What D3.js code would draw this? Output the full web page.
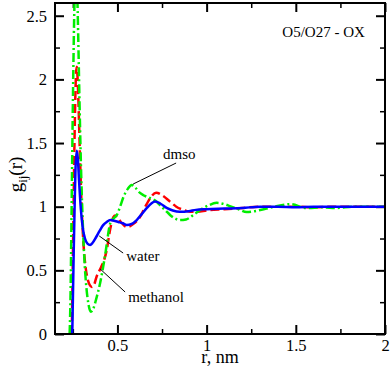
<!DOCTYPE html>
<html>
<head>
<meta charset="utf-8">
<script src="https://cdn.jsdelivr.net/npm/d3@7"></script>
<style>
    body { margin: 0; background: #fff; }
</style>
</head>
<body>
<svg id="chart" width="391" height="368"></svg>
<script>
// g(r) values, r in nm
const waterR = [0.24, 0.246, 0.25, 0.255, 0.26, 0.265, 0.272, 0.278, 0.285, 0.295, 0.305, 0.318, 0.332, 0.347, 0.36, 0.38, 0.40, 0.42, 0.44, 0.46, 0.48, 0.505, 0.53, 0.552, 0.58, 0.608, 0.635, 0.665, 0.69, 0.711, 0.74, 0.776, 0.81, 0.85, 0.90, 0.94, 1.0, 1.1, 1.2, 1.3, 1.4, 1.5, 1.6, 1.7, 1.8, 1.9, 2.0]
const waterG = [0, 0, 0.25, 0.65, 1.0, 1.3, 1.44, 1.38, 1.2, 0.98, 0.84, 0.75, 0.71, 0.70, 0.715, 0.76, 0.81, 0.855, 0.88, 0.895, 0.89, 0.88, 0.87, 0.856, 0.865, 0.895, 0.94, 0.99, 1.025, 1.04, 1.025, 0.99, 0.97, 0.96, 0.965, 0.975, 0.98, 0.985, 0.99, 1.0, 1.0, 0.995, 1.0, 1.0, 1.0, 1.0, 1.0]

const methanolR = [0.24, 0.244, 0.248, 0.253, 0.258, 0.263, 0.268, 0.272, 0.277, 0.283, 0.29, 0.30, 0.31, 0.322, 0.335, 0.347, 0.357, 0.37, 0.383, 0.40, 0.41, 0.425, 0.44, 0.459, 0.478, 0.487, 0.50, 0.525, 0.553, 0.59, 0.627, 0.66, 0.69, 0.717, 0.75, 0.795, 0.83, 0.87, 0.907, 0.95, 1.0, 1.1, 1.2, 1.3, 1.4, 1.5, 1.6, 1.7, 1.8, 1.9, 2.0]
const methanolG = [0, 0.05, 0.4, 0.9, 1.4, 1.8, 2.05, 2.1, 2.0, 1.75, 1.4, 0.98, 0.7, 0.52, 0.42, 0.38, 0.37, 0.39, 0.45, 0.5, 0.53, 0.58, 0.66, 0.82, 0.92, 0.93, 0.915, 0.87, 0.84, 0.865, 0.92, 1.01, 1.08, 1.11, 1.09, 1.04, 1.0, 0.975, 0.96, 0.96, 0.97, 0.98, 0.99, 1.0, 1.0, 1.0, 0.995, 1.0, 1.0, 1.0, 1.0]

const dmsoR = [0.232, 0.237, 0.242, 0.247, 0.252, 0.257, 0.262, 0.268, 0.274, 0.28, 0.287, 0.295, 0.305, 0.315, 0.325, 0.337, 0.351, 0.365, 0.38, 0.403, 0.43, 0.46, 0.48, 0.497, 0.515, 0.535, 0.558, 0.58, 0.60, 0.625, 0.646, 0.68, 0.71, 0.74, 0.77, 0.795, 0.82, 0.85, 0.885, 0.926, 0.97, 1.01, 1.056, 1.1, 1.13, 1.18, 1.224, 1.27, 1.32, 1.38, 1.47, 1.56, 1.65, 1.73, 1.82, 1.9, 2.0]
const dmsoG = [0, 0.3, 0.85, 1.45, 2.0, 2.45, 2.75, 2.85, 2.7, 2.35, 1.85, 1.35, 0.9, 0.58, 0.38, 0.24, 0.175, 0.2, 0.27, 0.40, 0.61, 0.87, 0.91, 0.935, 1.0, 1.08, 1.14, 1.17, 1.15, 1.11, 1.09, 1.07, 1.05, 1.01, 0.97, 0.935, 0.91, 0.895, 0.9, 0.935, 0.98, 1.01, 1.03, 1.02, 1.005, 0.98, 0.958, 0.965, 0.98, 1.0, 1.02, 0.99, 0.995, 0.99, 1.0, 1.0, 1.0]

const xTicks = [0.5, 1, 1.5, 2]
const xMinorTicks = [0.25, 0.75, 1.25, 1.75]
const yTicks = [0, 0.5, 1, 1.5, 2, 2.5]
const yMinorTicks = [0.25, 0.75, 1.25, 1.75, 2.25]

const panelTitle = "O5/O27 - OX"

// label text, text anchor, pointer start, pointer end (data units)
const labels = [
    {name: "dmso", at: [0.756, 1.375], from: [0.829, 1.343], to: [0.588, 1.178]},
    {name: "water", at: [0.549, 0.577], from: [0.532, 0.636], to: [0.398, 0.770]},
    {name: "methanol", at: [0.56, 0.255], from: [0.543, 0.33], to: [0.403, 0.511]}
]

const serif = "'Liberation Serif', 'Times New Roman', 'DejaVu Serif', serif"


let svg = d3.select("#chart").attr("font-family", serif),
    margin = {top: 3, right: 6, bottom: 34, left: 55},
    width = 391 - margin.left - margin.right,
    height = 368 - margin.top - margin.bottom

let x = d3.scaleLinear().domain([0.15, 2]).range([margin.left, margin.left + width]),
    y = d3.scaleLinear().domain([0, 2.6]).range([margin.top + height, margin.top])

svg.append("defs").append("clipPath")
    .attr("id", "plot-clip")
    .append("rect")
    .attr("x", margin.left)
    .attr("y", margin.top)
    .attr("width", width)
    .attr("height", height)

function drawAxis(axis, transform, minor) {
    let g = svg.append("g").attr("transform", transform).call(axis)
    g.attr("font-family", serif).attr("font-size", 16.5)
    g.select(".domain").remove()
    g.selectAll("line").attr("stroke", "#000").attr("stroke-width", minor ? 1.5 : 2)
    g.selectAll("text").attr("fill", "#000")
    return g
}

let bottom = margin.top + height,
    right = margin.left + width

// ticks point inward on all four sides
drawAxis(d3.axisBottom(x).tickValues(xTicks).tickSize(-9).tickPadding(5).tickFormat(d3.format("")), `translate(0,${bottom})`)
drawAxis(d3.axisBottom(x).tickValues(xMinorTicks).tickSize(-5).tickFormat(""), `translate(0,${bottom})`, true)
drawAxis(d3.axisTop(x).tickValues(xTicks).tickSize(-9).tickFormat(""), `translate(0,${margin.top})`)
drawAxis(d3.axisTop(x).tickValues(xMinorTicks).tickSize(-5).tickFormat(""), `translate(0,${margin.top})`, true)

drawAxis(d3.axisLeft(y).tickValues(yTicks).tickSize(-9).tickPadding(8).tickFormat(d3.format("")), `translate(${margin.left},0)`)
drawAxis(d3.axisLeft(y).tickValues(yMinorTicks).tickSize(-5).tickFormat(""), `translate(${margin.left},0)`, true)
drawAxis(d3.axisRight(y).tickValues(yTicks).tickSize(-9).tickFormat(""), `translate(${right},0)`)
drawAxis(d3.axisRight(y).tickValues(yMinorTicks).tickSize(-5).tickFormat(""), `translate(${right},0)`, true)

let line = d3.line()
    .x(d => x(d[0]))
    .y(d => y(d[1]))
    .curve(d3.curveMonotoneX)

let series = [
    {r: methanolR, g: methanolG, color: "#ff0000", dash: "9,4"},
    {r: dmsoR, g: dmsoG, color: "#00ee00", dash: "9,3,2,3"},
    {r: waterR, g: waterG, color: "#0000ff", dash: null}
]

series.forEach(function(s) {
    svg.append("path")
        .datum(d3.zip(s.r, s.g))
        .attr("clip-path", "url(#plot-clip)")
        .attr("fill", "none")
        .attr("stroke", s.color)
        .attr("stroke-width", 2.5)
        .attr("stroke-dasharray", s.dash)
        .attr("d", line)
})

svg.append("rect")
    .attr("x", margin.left)
    .attr("y", margin.top)
    .attr("width", width)
    .attr("height", height)
    .attr("fill", "none")
    .attr("stroke", "#000")
    .attr("stroke-width", 2)

labels.forEach(function(l) {
    svg.append("line")
        .attr("x1", x(l.from[0])).attr("y1", y(l.from[1]))
        .attr("x2", x(l.to[0])).attr("y2", y(l.to[1]))
        .attr("stroke", "#000")
        .attr("stroke-width", 1)

    svg.append("text")
        .attr("x", x(l.at[0]))
        .attr("y", y(l.at[1]))
        .attr("font-size", 15)
        .text(l.name)
})

svg.append("text")
    .attr("x", x(1.887))
    .attr("y", y(2.33))
    .attr("text-anchor", "end")
    .attr("font-size", 15)
    .text(panelTitle)

svg.append("text")
    .attr("x", margin.left + width / 2)
    .attr("y", 363)
    .attr("text-anchor", "middle")
    .attr("font-size", 18)
    .text("r, nm")

let yLabel = svg.append("text")
    .attr("transform", `translate(22,${margin.top + height / 2 + 6}) rotate(-90)`)
    .attr("text-anchor", "middle")
    .attr("font-size", 19)

yLabel.append("tspan").text("g")
yLabel.append("tspan").attr("dy", 5).attr("font-size", 13).text("ij")
yLabel.append("tspan").attr("dy", -5).text("(r)")
</script>
</body>
</html>
